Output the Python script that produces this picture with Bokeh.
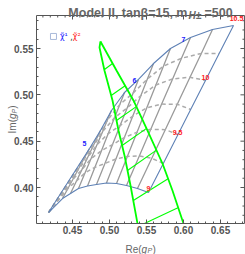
import math
from bokeh.plotting import figure
from bokeh.models import Range1d, LinearAxis, Label, FixedTicker, PrintfTickFormatter
from bokeh.core.properties import value
from bokeh.embed import file_html
from bokeh.resources import INLINE

# ---------------- data ----------------
# plotted area of the chart (frame box) and the full canvas extent in data units
PLOT_X = (0.4014, 0.6824)
PLOT_Y = (0.3612, 0.5856)
CANVAS_X = (0.3527, 0.6838)
CANVAS_Y = (0.3277, 0.6018)

X_MAJOR = [0.45, 0.50, 0.55, 0.60, 0.65]
Y_MAJOR = [0.40, 0.45, 0.50, 0.55]
X_MINOR = [0.41, 0.42, 0.43, 0.44, 0.46, 0.47, 0.48, 0.49, 0.51, 0.52, 0.53, 0.54,
           0.56, 0.57, 0.58, 0.59, 0.61, 0.62, 0.63, 0.64, 0.66, 0.67, 0.68]
Y_MINOR = [0.37, 0.38, 0.39, 0.41, 0.42, 0.43, 0.44, 0.46, 0.47, 0.48, 0.49,
           0.51, 0.52, 0.53, 0.54, 0.56, 0.57, 0.58]

# mesh nodes: one list per solid line (columns), rows = 9, 9.25, ..., 10.5
ROW_LEVELS = [9.0, 9.25, 9.5, 9.75, 10.0, 10.25, 10.5]
GRID_X = [
    [0.4176] * 7,
    [0.4365, 0.4438, 0.4504, 0.4569, 0.4631, 0.4682, 0.4730],
    [0.4473, 0.4554, 0.4627, 0.4700, 0.4769, 0.4826, 0.4878],
    [0.4581, 0.4670, 0.4750, 0.4831, 0.4907, 0.4969, 0.5027],
    [0.4703, 0.4803, 0.4893, 0.4983, 0.5068, 0.5138, 0.5203],
    [0.4824, 0.4938, 0.5041, 0.5142, 0.5239, 0.5318, 0.5392],
    [0.4959, 0.5087, 0.5201, 0.5315, 0.5423, 0.5512, 0.5595],
    [0.5095, 0.5241, 0.5372, 0.5503, 0.5627, 0.5730, 0.5824],
    [0.5230, 0.5403, 0.5558, 0.5705, 0.5853, 0.5973, 0.6095],
    [0.5378, 0.5572, 0.5754, 0.5916, 0.6088, 0.6241, 0.6392],
    [0.5527, 0.5727, 0.5926, 0.6097, 0.6297, 0.6482, 0.6676],
]
GRID_Y = [
    [0.3730] * 7,
    [0.3881, 0.3989, 0.4086, 0.4184, 0.4275, 0.4351, 0.4421],
    [0.3935, 0.4071, 0.4193, 0.4316, 0.4432, 0.4527, 0.4615],
    [0.3989, 0.4158, 0.4309, 0.4461, 0.4603, 0.4722, 0.4831],
    [0.4016, 0.4218, 0.4399, 0.4582, 0.4752, 0.4894, 0.5025],
    [0.4033, 0.4259, 0.4463, 0.4667, 0.4859, 0.5018, 0.5166],
    [0.4049, 0.4307, 0.4539, 0.4771, 0.4990, 0.5171, 0.5338],
    [0.4043, 0.4335, 0.4597, 0.4859, 0.5107, 0.5310, 0.5500],
    [0.4022, 0.4341, 0.4628, 0.4900, 0.5172, 0.5395, 0.5619],
    [0.3989, 0.4315, 0.4624, 0.4899, 0.5190, 0.5447, 0.5705],
    [0.3946, 0.4260, 0.4572, 0.4842, 0.5155, 0.5445, 0.5748],
]

# green region (ends where it leaves the plotted area)
GREEN_LEFT_X = [0.4878, 0.4865, 0.4932, 0.5041, 0.5122, 0.5203, 0.5284, 0.5378]
GREEN_LEFT_Y = [0.5576, 0.5511, 0.5263, 0.4939, 0.4615, 0.4345, 0.4022, 0.3612]
GREEN_RIGHT_X = [0.4878, 0.5095, 0.5324, 0.5514, 0.5716, 0.5851, 0.6000]
GREEN_RIGHT_Y = [0.5576, 0.5263, 0.4939, 0.4615, 0.4259, 0.3968, 0.3612]
HATCH_X0 = [0.4932, 0.5023, 0.5095, 0.5170, 0.5243, 0.5322, 0.5473]
HATCH_Y0 = [0.5273, 0.4993, 0.4723, 0.4453, 0.4184, 0.3860, 0.3612]
HATCH_X1 = [0.5041, 0.5211, 0.5362, 0.5501, 0.5635, 0.5797, 0.5932]
HATCH_Y1 = [0.5338, 0.5098, 0.4873, 0.4638, 0.4403, 0.4097, 0.3784]

BLUE_LABELS = ["5", "6", "7"]
BLUE_LX = [0.4662, 0.5338, 0.6000]
BLUE_LY = [0.4475, 0.5155, 0.5597]
RED_LABELS = ["9", "9.5", "10", "10.5"]
RED_LX = [0.5527, 0.5919, 0.6297, 0.6716]
RED_LY = [0.3989, 0.4594, 0.5187, 0.5824]

# ---------------- figure ----------------
p = figure(width=245, height=254, output_backend="svg", toolbar_location=None,
           x_range=Range1d(*CANVAS_X), y_range=Range1d(*CANVAS_Y),
           x_axis_location=None, y_axis_location=None,
           min_border=0, min_border_left=0, min_border_right=0,
           min_border_top=0, min_border_bottom=0)
p.grid.visible = False
p.outline_line_color = None
p.background_fill_color = "white"
p.border_fill_color = "white"

AX_COL = "#555555"


def make_axis(ticks, minor, loc, bounds):
    ax = LinearAxis(ticker=FixedTicker(ticks=ticks, minor_ticks=minor),
                    formatter=PrintfTickFormatter(format="%.2f"),
                    fixed_location=loc, bounds=bounds)
    ax.axis_line_color = AX_COL
    ax.major_tick_line_color = AX_COL
    ax.minor_tick_line_color = AX_COL
    ax.major_tick_in = 4
    ax.major_tick_out = 0
    ax.minor_tick_in = 2
    ax.minor_tick_out = 0
    ax.major_label_text_font_size = "10px"
    ax.major_label_text_font = "Liberation Sans"
    ax.major_label_text_font_style = "bold"
    ax.major_label_text_color = "#555555"
    ax.major_label_standoff = 3
    return ax


p.add_layout(make_axis(X_MAJOR, X_MINOR, PLOT_Y[0], PLOT_X), "below")
p.add_layout(make_axis(Y_MAJOR, Y_MINOR, PLOT_X[0], PLOT_Y), "left")

# frame box (top and right sides) with inward ticks
p.segment([PLOT_X[0], PLOT_X[1]], [PLOT_Y[1], PLOT_Y[0]], [PLOT_X[1], PLOT_X[1]],
          [PLOT_Y[1], PLOT_Y[1]], line_color=AX_COL, line_width=1)
p.ray([PLOT_X[1]] * len(Y_MAJOR), Y_MAJOR, length=4, length_units="screen",
      angle=math.pi, line_color=AX_COL, line_width=1)
p.ray([PLOT_X[1]] * len(Y_MINOR), Y_MINOR, length=2, length_units="screen",
      angle=math.pi, line_color=AX_COL, line_width=1)
p.ray(X_MAJOR, [PLOT_Y[1]] * len(X_MAJOR), length=4, length_units="screen",
      angle=-math.pi / 2, line_color=AX_COL, line_width=1)
p.ray(X_MINOR, [PLOT_Y[1]] * len(X_MINOR), length=2, length_units="screen",
      angle=-math.pi / 2, line_color=AX_COL, line_width=1)

# gray mesh: solid = columns, dashed = rows
for c in range(1, len(GRID_X) - 1):
    p.line(GRID_X[c], GRID_Y[c], line_color="#9a9a9a", line_width=1.3)
for r in range(1, len(ROW_LEVELS) - 1):
    xs = [col[r] for col in GRID_X]
    ys = [col[r] for col in GRID_Y]
    p.line(xs, ys, line_color="#ababab", line_width=1.5, line_dash="4 3")

# blue boundary
bx = [col[0] for col in GRID_X] + GRID_X[-1][1:] + [col[-1] for col in GRID_X][::-1][1:]
by = [col[0] for col in GRID_Y] + GRID_Y[-1][1:] + [col[-1] for col in GRID_Y][::-1][1:]
p.line(bx, by, line_color="#5E81B5", line_width=1.1)

# green region
p.line(GREEN_LEFT_X, GREEN_LEFT_Y, line_color="#00ff00", line_width=1.8)
p.line(GREEN_RIGHT_X, GREEN_RIGHT_Y, line_color="#00ff00", line_width=1.8)
p.segment(HATCH_X0, HATCH_Y0, HATCH_X1, HATCH_Y1, line_color="#00ff00", line_width=1.1)

# curve labels
p.text(BLUE_LX, BLUE_LY, text=BLUE_LABELS, text_color="#1a1aff", text_font_size="7px",
       text_font=value("Liberation Sans"), text_font_style="bold",
       text_align="center", text_baseline="middle")
p.text(RED_LX, RED_LY, text=RED_LABELS, text_color="#ff1a1a", text_font_size="7px",
       text_font=value("Liberation Sans"), text_font_style="bold",
       text_align="center", text_baseline="middle")

# legend (top-left, inside the plotted area)
p.scatter([0.4243], [0.5630], marker="square", size=6, fill_color=None,
          line_color="#a9b9d9", line_width=1)
p.text([0.4330], [0.5630], text=["\u03c7\u0303\u00b9"], text_color="#1a1aff",
       text_font_size="8px", text_font=value("DejaVu Sans"), text_baseline="middle")
p.text([0.4470], [0.5630], text=[","], text_color="#333333",
       text_font_size="8px", text_font=value("DejaVu Sans"), text_baseline="middle")
p.text([0.4505], [0.5630], text=["\u03c7\u0303\u00b2"], text_color="#ff1a1a",
       text_font_size="8px", text_font=value("DejaVu Sans"), text_baseline="middle")

# title and axis labels
TCOL = "#666666"
FONT = "Liberation Sans"


def lab(x, y, text, size, style="normal", align="left", angle=0.0):
    p.add_layout(Label(x=x, y=y, text=text, text_align=align, angle=angle,
                       text_font=FONT, text_font_size=size, text_font_style=style,
                       text_color=TCOL, text_baseline="alphabetic"))


lab(0.6054, 0.5878, "Model II, tan\u03b2=15, m", "12.5px", "bold", "right")
lab(0.6068, 0.5851, "H\u00b1", "10px", "bold italic")
lab(0.6284, 0.5878, "=500", "12.5px", "bold")

lab(0.5216, 0.3336, "Re(", "10px")
lab(0.5432, 0.3336, "g", "10px", "italic")
lab(0.5513, 0.3320, "P", "7px", "italic")
lab(0.5581, 0.3336, ")", "10px")

ang = math.pi / 2
lab(0.3689, 0.4583, "Im(", "10px", angle=ang)
lab(0.3689, 0.4738, "g", "10px", "italic", angle=ang)
lab(0.3716, 0.4799, "P", "7px", "italic", angle=ang)
lab(0.3689, 0.4849, ")", "10px", angle=ang)

open("out.html", "w").write(file_html(p, INLINE))
